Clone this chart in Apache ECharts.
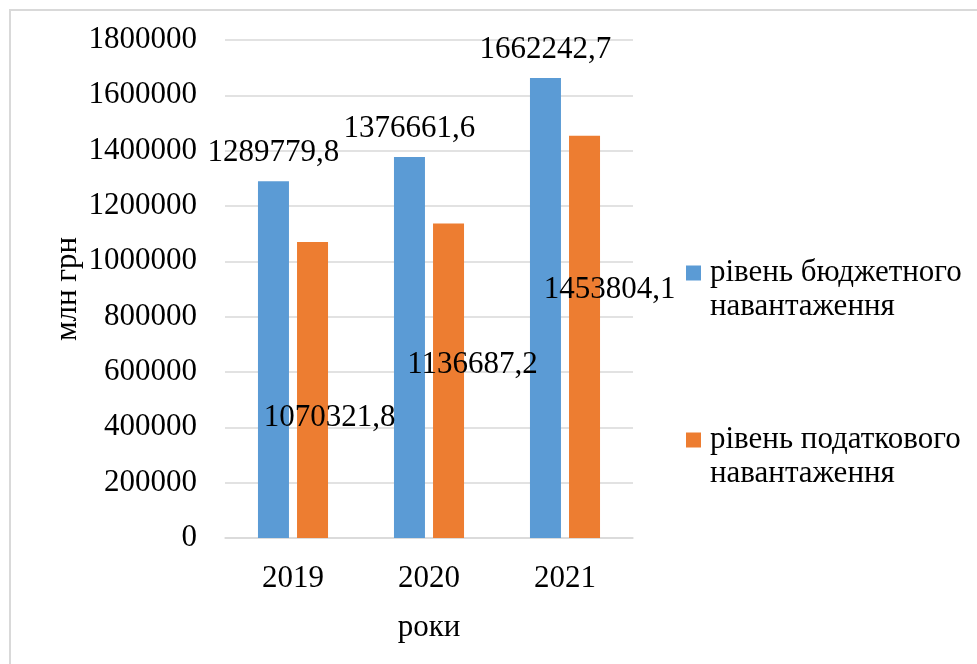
<!DOCTYPE html>
<html>
<head>
<meta charset="utf-8">
<script src="https://cdn.jsdelivr.net/npm/echarts@6/dist/echarts.min.js"></script>
<style>
  html, body { margin: 0; padding: 0; background: #fff; }
  #chart { width: 977px; height: 664px; }
</style>
</head>
<body>
<div id="chart"></div>
<script>
// Years on the category axis
const years = ['2019', '2020', '2021'];
// Series names
const budgetName = 'рівень бюджетного навантаження';
const taxName = 'рівень податкового навантаження';
// Values, млн грн
const budgetValues = [1289779.8, 1376661.6, 1662242.7];
const taxValues = [1070321.8, 1136687.2, 1453804.1];
// Value axis range
const yMin = 0;
const yMax = 1800000;
const yStep = 200000;

const FONT = '"Liberation Serif", "Times New Roman", serif';
const FS = 31;
const GRID_COLOR = '#d9d9d9';

// Hand-placed value labels for the orange bars (offsets from bar centre)
const taxLabelShift = [[17, 28], [24, -16], [25, -47]];

const fmt = v => String(v).replace('.', ',');

const chart = echarts.init(document.getElementById('chart'));
chart.setOption({
  backgroundColor: '#ffffff',
  animation: false,
  textStyle: { fontFamily: FONT, color: '#000' },
  graphic: [{
    type: 'rect',
    shape: { x: 10, y: 10, width: 1000, height: 700 },
    style: { fill: 'none', stroke: GRID_COLOR, lineWidth: 2 },
    silent: true
  }],
  grid: { left: 225, right: 344, top: 40, bottom: 126 },
  legend: {
    orient: 'vertical',
    left: 686,
    top: 222,
    padding: 0,
    itemWidth: 15,
    itemHeight: 15,
    itemGap: 65,
    icon: 'rect',
    data: [budgetName, taxName],
    // leading blank line keeps the marker level with the first text line
    formatter: name => '\n' + name.replace(' навантаження', '\nнавантаження'),
    textStyle: {
      fontFamily: FONT,
      fontSize: FS,
      lineHeight: 34,
      color: '#000',
      padding: [0, 0, 0, 4]
    }
  },
  xAxis: {
    type: 'category',
    data: years,
    name: 'роки',
    nameLocation: 'middle',
    nameGap: 74,
    nameTextStyle: { fontFamily: FONT, fontSize: FS, color: '#000' },
    axisLine: { lineStyle: { color: GRID_COLOR, width: 1.5 } },
    axisTick: { show: false },
    axisLabel: { fontFamily: FONT, fontSize: FS, color: '#000', margin: 25 }
  },
  yAxis: {
    type: 'value',
    min: yMin,
    max: yMax,
    interval: yStep,
    name: 'млн грн',
    nameLocation: 'middle',
    nameGap: 142,
    nameTextStyle: { fontFamily: FONT, fontSize: FS, color: '#000' },
    axisLine: { show: false },
    axisTick: { show: false },
    axisLabel: {
      fontFamily: FONT, fontSize: FS, color: '#000', margin: 28,
      formatter: v => String(v)
    },
    splitLine: { lineStyle: { color: GRID_COLOR, width: 1.5 } }
  },
  series: [
    {
      name: budgetName,
      type: 'bar',
      data: budgetValues,
      barWidth: 31,
      barGap: '26%',
      itemStyle: { color: '#5b9bd5' },
      label: {
        show: true,
        position: 'top',
        distance: 13,
        fontFamily: FONT,
        fontSize: FS,
        color: '#000',
        formatter: p => fmt(p.value)
      }
    },
    {
      name: taxName,
      type: 'bar',
      barWidth: 31,
      barGap: '26%',
      itemStyle: { color: '#ed7d31' },
      data: taxValues.map((v, i) => ({
        value: v,
        label: { offset: taxLabelShift[i] }
      })),
      label: {
        show: true,
        position: 'inside',
        fontFamily: FONT,
        fontSize: FS,
        color: '#000',
        textBorderWidth: 0,
        formatter: p => fmt(p.value)
      }
    }
  ]
});
</script>
</body>
</html>
